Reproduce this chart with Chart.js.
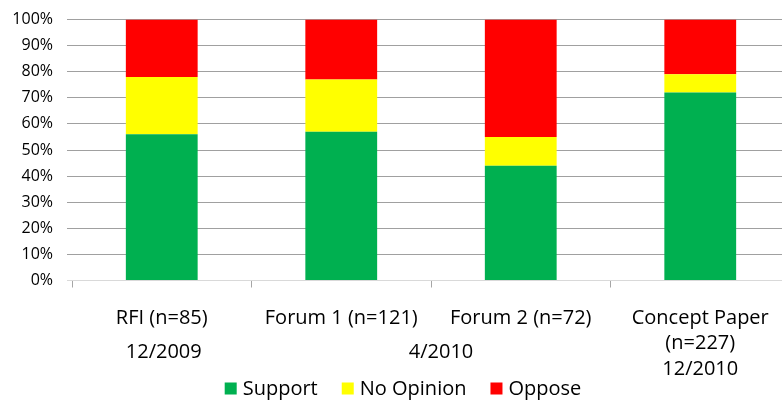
<!DOCTYPE html>
<html>
<head>
<meta charset="utf-8">
<script src="https://cdn.jsdelivr.net/npm/chart.js@4.4.1/dist/chart.umd.min.js"></script>
<style>
  html, body { margin: 0; padding: 0; background: #fff; overflow: hidden; }
  #wrap { width: 800px; height: 402px; }
</style>
</head>
<body>
<div id="wrap"><canvas id="c" width="800" height="402"></canvas></div>
<script>
// ---- data ----
const categories = [
  ["RFI (n=85)"],
  ["Forum 1 (n=121)"],
  ["Forum 2 (n=72)"],
  ["Concept Paper", "(n=227)", "12/2010"]
];
const dateGroupLabels = ["12/2009", "4/2010"];
const dateGroupFirst = [0, 1];
const dateGroupLast = [0, 2];

const seriesNames = ["Support", "No Opinion", "Oppose"];
const support = [56, 57, 44, 72];
const noOpinion = [22, 20, 11, 7];
const oppose = [22, 23, 45, 21];
const seriesColors = ["#00B050", "#FFFF00", "#FF0000"];

const yTicks = [0, 10, 20, 30, 40, 50, 60, 70, 80, 90, 100];

const FONT = "'Open Sans', 'Liberation Sans', sans-serif";

const groupLabelPlugin = {
  id: 'groupLabels',
  afterDraw(chart) {
    const ctx = chart.ctx;
    const xs = chart.scales.x;
    const nudge = [2, 10];
    ctx.save();
    ctx.font = "20px " + FONT;
    ctx.fillStyle = "#000";
    ctx.textAlign = "center";
    ctx.textBaseline = "alphabetic";
    for (let i = 0; i < dateGroupLabels.length; i++) {
      const x = (xs.getPixelForValue(dateGroupFirst[i]) + xs.getPixelForValue(dateGroupLast[i])) / 2;
      ctx.fillText(dateGroupLabels[i], x + nudge[i], chart.chartArea.bottom + 77);
    }
    ctx.restore();
  }
};

const legendPlugin = {
  id: 'customLegend',
  afterDraw(chart) {
    const ctx = chart.ctx;
    ctx.save();
    ctx.font = "20px " + FONT;
    const box = 12, gap = 6, itemGap = 24;
    const ds = chart.data.datasets;
    let total = 0;
    const widths = ds.map(d => ctx.measureText(d.label).width);
    widths.forEach((w, i) => { total += box + gap + w + (i < widths.length - 1 ? itemGap : 0); });
    let x = chart.width / 2 - total / 2 + 3;
    const yMid = 388.5;
    ds.forEach((d, i) => {
      ctx.fillStyle = d.backgroundColor;
      ctx.fillRect(x, yMid - box / 2, box, box);
      ctx.fillStyle = "#000";
      ctx.textAlign = "left";
      ctx.textBaseline = "middle";
      ctx.fillText(d.label, x + box + gap, yMid + 1);
      x += box + gap + widths[i] + itemGap;
    });
    ctx.restore();
  }
};

new Chart(document.getElementById('c'), {
  type: 'bar',
  data: {
    labels: categories,
    datasets: [
      { label: seriesNames[0], data: support, backgroundColor: seriesColors[0] },
      { label: seriesNames[1], data: noOpinion, backgroundColor: seriesColors[1] },
      { label: seriesNames[2], data: oppose, backgroundColor: seriesColors[2] }
    ]
  },
  options: {
    responsive: false,
    animation: false,
    events: [],
    layout: { padding: { top: 19.5, right: 10, bottom: 2, left: 0 } },
    datasets: { bar: { categoryPercentage: 0.4, barPercentage: 1.0, borderWidth: 0 } },
    plugins: {
      legend: { display: false },
      tooltip: { enabled: false },
      title: { display: false }
    },
    scales: {
      x: {
        stacked: true,
        grid: {
          display: true,
          drawOnChartArea: false,
          drawTicks: true,
          tickLength: 7,
          color: '#a6a6a6',
          offset: true
        },
        border: { display: true, color: '#d9d9d9' },
        ticks: {
          font: { family: FONT, size: 20, lineHeight: 1.275 },
          color: '#000',
          padding: 18,
          maxRotation: 0,
          minRotation: 0,
          autoSkip: false
        }
      },
      y: {
        stacked: true,
        min: 0,
        max: 100,
        afterFit(scale) { scale.width = 72; scale.paddingTop = 0; scale.paddingBottom = 0; },
        afterBuildTicks(scale) { scale.ticks = yTicks.map(v => ({ value: v })); },
        grid: {
          color: ctx => (ctx.tick && ctx.tick.value === 0) ? '#d9d9d9' : '#a0a0a0',
          tickLength: 5,
          drawTicks: true
        },
        border: { display: false },
        ticks: {
          font: { family: FONT, size: 16 },
          color: '#000',
          padding: 14,
          callback: v => v + '%'
        }
      }
    }
  },
  plugins: [groupLabelPlugin, legendPlugin]
});
</script>
</body>
</html>
